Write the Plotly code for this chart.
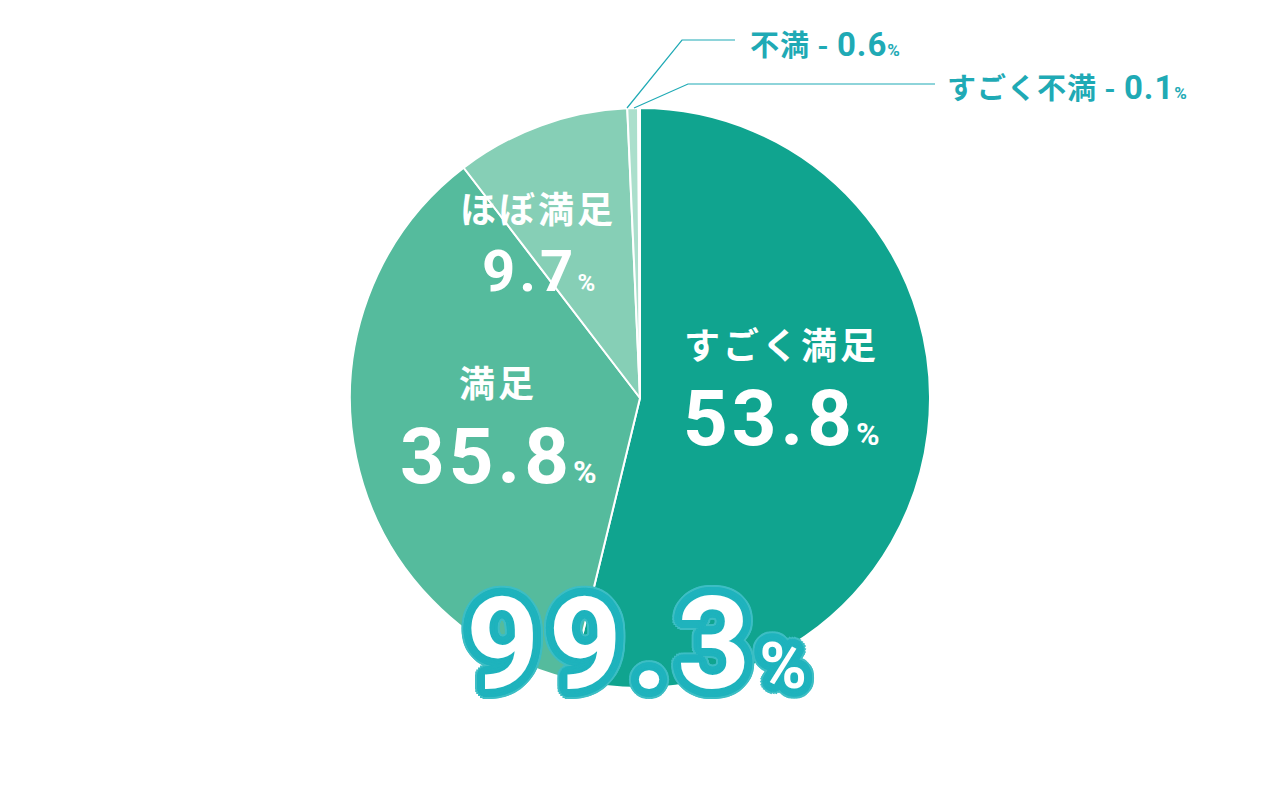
import math
import plotly.graph_objects as go

# --- data ---
labels = ["すごく満足", "満足", "ほぼ満足", "不満", "すごく不満"]
values = [53.8, 35.8, 9.7, 0.6, 0.1]
colors = ["#10a48f", "#55bb9d", "#86cfb6", "#abdfcc", "#e4f4ee"]
total_value = 99.3  # すごく満足 + 満足 + ほぼ満足

W, H = 1280, 797
OFF = 8  # page body margin
TEAL = "#1faab5"
JP = "Noto Sans CJK JP"
NUM = "Roboto"


def px(x, y):
    # screen pixel -> paper coords
    return (x - OFF) / W, 1 - (y - OFF) / H


def span(txt, size, family=NUM, ls=0):
    return (f"<span style='font-size:{size}px;font-family:{family};"
            f"letter-spacing:{ls}px'>{txt}</span>")


cx, cy, r = 640, 398, 290
x0, y0 = px(cx - r, cy + r)
x1, y1 = px(cx + r, cy - r)

fig = go.Figure(go.Pie(
    labels=labels,
    values=values,
    sort=False,
    direction="clockwise",
    rotation=0,
    marker=dict(colors=colors, line=dict(color="white", width=2)),
    textinfo="none",
    hoverinfo="label+percent",
    domain=dict(x=[x0, x1], y=[y0, y1]),
    showlegend=False,
))

annotations = []

# inside labels: (index, center x, split y, number size, letter spacing)
inside = [
    (0, 781, 371, 78, 4),
    (1, 498, 409, 78, 4),
    (2, 538, 235, 58, 4),
]
for i, tx, ty, vs, ls in inside:
    ax, ay = px(tx, ty)
    annotations.append(dict(x=ax, y=ay, xref="paper", yref="paper", showarrow=False,
                            text=span(labels[i], 36, JP, 3), xanchor="center", yanchor="bottom",
                            font=dict(family=JP, size=36, color="white", weight="bold")))
    annotations.append(dict(x=ax, y=ay, xref="paper", yref="paper", showarrow=False,
                            text=span(f"{values[i]}", vs, NUM, ls) + span("%", int(vs * 0.42), NUM),
                            xanchor="center", yanchor="top",
                            font=dict(family=NUM, size=vs, color="white", weight="bold")))

# outside labels with leader lines
outside = [
    (3, [(627, 108), (682, 40), (735, 40)], (748, 43)),
    (4, [(634, 108), (688, 84), (935, 84)], (945, 86)),
]
shapes = []
for i, pts, (tx, ty) in outside:
    path = ""
    for k, (x, y) in enumerate(pts):
        xp, yp = px(x, y)
        path += ("M" if k == 0 else "L") + f"{xp},{yp} "
    shapes.append(dict(type="path", path=path, xref="paper", yref="paper",
                       line=dict(color=TEAL, width=1.2)))
    ax, ay = px(tx, ty)
    txt = (span(labels[i] + " - ", 29, JP, 1) + span(f"{values[i]}", 33, NUM, 1)
           + span("%", 17, NUM))
    annotations.append(dict(x=ax, y=ay, xref="paper", yref="paper", showarrow=False,
                            text=txt, xanchor="left", yanchor="middle",
                            font=dict(family=JP, size=29, color=TEAL, weight="bold")))

# big total with outline
stroke = []
for rad, col in [(10, "#3dbec4"), (8, "#1fb3bd"), (5, "#1fb3bd"), (2.5, "#1fb3bd")]:
    for k in range(24):
        a = 2 * math.pi * k / 24
        stroke.append(f"{rad*math.cos(a):.1f}px {rad*math.sin(a):.1f}px 0 {col}")
ax, ay = px(636, 644)
annotations.append(dict(x=ax, y=ay, xref="paper", yref="paper", showarrow=False,
                        text=span(f"{total_value}", 128, NUM, 9) + span("%", 64, NUM),
                        xanchor="center", yanchor="middle",
                        font=dict(family=NUM, size=128, color="white", weight="bold",
                                  shadow=", ".join(reversed(stroke)))))

fig.update_layout(
    width=W, height=H,
    margin=dict(l=0, r=0, t=0, b=0),
    paper_bgcolor="white",
    plot_bgcolor="white",
    annotations=annotations,
    shapes=shapes,
)

fig.write_html("out.html")
